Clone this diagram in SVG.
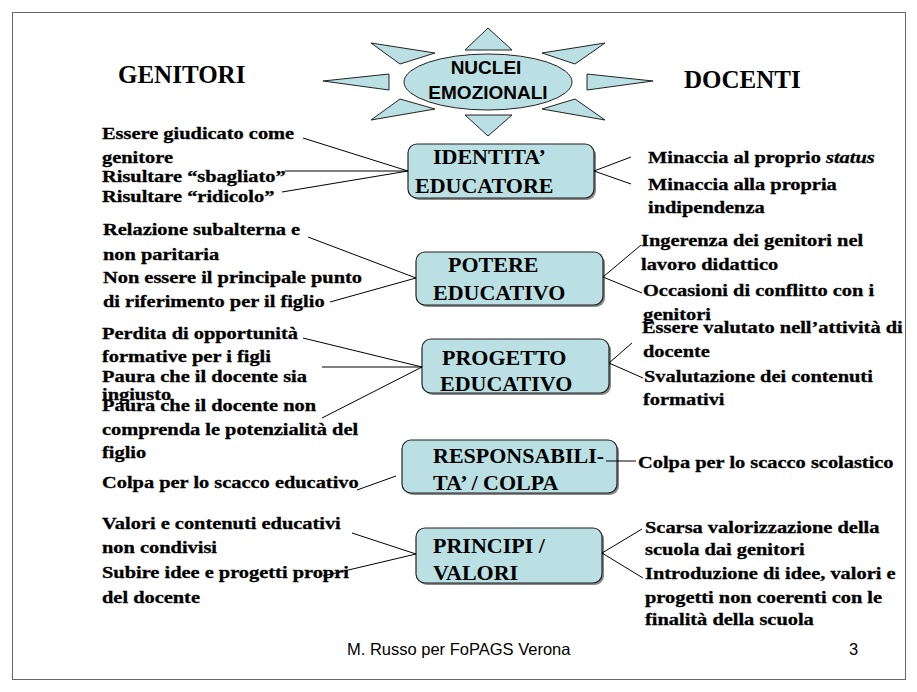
<svg xmlns="http://www.w3.org/2000/svg" width="917" height="692" viewBox="0 0 917 692">
<style>
.bg{fill:#ffffff}
.frame{fill:none;stroke:#666;stroke-width:1}
.ray,.core{fill:#bbe0e3;stroke:#222;stroke-width:1}
.box{fill:#bbe0e3;stroke:#222;stroke-width:1.2}
.shadow{fill:#8a8a8a}
.core-t{font-family:"Liberation Sans",Arial,sans-serif;font-weight:bold;font-size:19px;fill:#000;text-anchor:middle}
.head{font-family:"Liberation Serif","Times New Roman",serif;font-weight:bold;font-size:25px;fill:#000}
.bt{font-family:"Liberation Serif","Times New Roman",serif;font-weight:bold;font-size:22px;fill:#000}
.it{font-family:"Liberation Serif","Times New Roman",serif;font-weight:bold;font-size:17px;fill:#000;stroke:#000;stroke-width:0.3}
.foot{font-family:"Liberation Sans",Arial,sans-serif;font-size:16.5px;fill:#000}
.conn line{stroke:#000;stroke-width:1}
</style>
<rect class="bg" x="0" y="0" width="917" height="692"/>
<rect class="frame" x="12.5" y="12.5" width="893" height="667"/>

<g id="nuclei">
  <polygon class="ray" points="465,50 488,28 512,50"/>
  <polygon class="ray" points="465,115 512,115 488,136"/>
  <polygon class="ray" points="371,43 435,53 400,64"/>
  <polygon class="ray" points="323,81 389,74 389,90"/>
  <polygon class="ray" points="371,120 400,99 435,109"/>
  <polygon class="ray" points="605,43 542,53 575,64"/>
  <polygon class="ray" points="653,81 587,74 587,90"/>
  <polygon class="ray" points="605,120 575,99 542,109"/>
  <ellipse class="core" cx="488" cy="82" rx="84" ry="28"/>
  <text class="core-t" x="486" y="74">NUCLEI</text>
  <text class="core-t" x="488" y="99" font-size="19.5">EMOZIONALI</text>
</g>

<g id="genitori"><text class="head" x="118" y="83">GENITORI</text></g>
<g id="docenti"><text class="head" x="684" y="88">DOCENTI</text></g>

<g id="identita">
  <rect class="shadow" x="410" y="146" width="186" height="54" rx="9"/>
  <rect class="box" x="408" y="144" width="186" height="54" rx="9"/>
  <text class="bt" x="433" y="164">IDENTITA’</text>
  <text class="bt" x="415" y="193">EDUCATORE</text>
</g>
<g id="potere">
  <rect class="shadow" x="418" y="254" width="187" height="53" rx="9"/>
  <rect class="box" x="416" y="252" width="187" height="53" rx="9"/>
  <text class="bt" x="448" y="272">POTERE</text>
  <text class="bt" x="433" y="300">EDUCATIVO</text>
</g>
<g id="progetto">
  <rect class="shadow" x="424" y="341" width="187" height="54" rx="9"/>
  <rect class="box" x="422" y="339" width="187" height="54" rx="9"/>
  <text class="bt" x="442" y="365">PROGETTO</text>
  <text class="bt" x="440" y="391">EDUCATIVO</text>
</g>
<g id="responsabilita">
  <rect class="shadow" x="404" y="442" width="215" height="53" rx="9"/>
  <rect class="box" x="402" y="440" width="215" height="53" rx="9"/>
  <text class="bt" x="433" y="463">RESPONSABILI-</text>
  <text class="bt" x="433" y="490">TA’ / COLPA</text>
</g>
<g id="principi">
  <rect class="shadow" x="418" y="530" width="186" height="55" rx="9"/>
  <rect class="box" x="416" y="528" width="186" height="55" rx="9"/>
  <text class="bt" x="433" y="553">PRINCIPI /</text>
  <text class="bt" x="433" y="580">VALORI</text>
</g>

<g id="connectors" class="conn">
  <line x1="303" y1="138" x2="408" y2="171"/>
  <line x1="285" y1="171" x2="408" y2="171"/>
  <line x1="282" y1="192" x2="408" y2="171"/>
  <line x1="308" y1="237" x2="416" y2="278"/>
  <line x1="330" y1="302" x2="416" y2="278"/>
  <line x1="303" y1="338" x2="422" y2="367"/>
  <line x1="322" y1="367" x2="422" y2="367"/>
  <line x1="322" y1="418" x2="422" y2="367"/>
  <line x1="357" y1="490" x2="396" y2="476"/>
  <line x1="352" y1="533" x2="416" y2="554"/>
  <line x1="323" y1="576" x2="416" y2="554"/>
  <line x1="594" y1="171" x2="631" y2="157"/>
  <line x1="594" y1="171" x2="631" y2="184"/>
  <line x1="603" y1="277" x2="641" y2="245"/>
  <line x1="603" y1="277" x2="642" y2="293"/>
  <line x1="609" y1="363" x2="632" y2="343"/>
  <line x1="609" y1="363" x2="643" y2="378"/>
  <line x1="606" y1="461" x2="636" y2="461"/>
  <line x1="602" y1="553" x2="642" y2="529"/>
  <line x1="602" y1="553" x2="643" y2="578"/>
</g>

<g id="genitori-items">
  <text class="it" transform="matrix(1.2 0 0 1 102 0)" y="139">Essere giudicato come</text>
  <text class="it" transform="matrix(1.2 0 0 1 102 0)" y="163">genitore</text>
  <text class="it" transform="matrix(1.2 0 0 1 102 0)" y="182">Risultare “sbagliato”</text>
  <text class="it" transform="matrix(1.2 0 0 1 102 0)" y="202">Risultare “ridicolo”</text>
  <text class="it" transform="matrix(1.2 0 0 1 103 0)" y="235">Relazione subalterna e</text>
  <text class="it" transform="matrix(1.2 0 0 1 103 0)" y="260">non paritaria</text>
  <text class="it" transform="matrix(1.2 0 0 1 103 0)" y="283">Non essere il principale punto</text>
  <text class="it" transform="matrix(1.2 0 0 1 103 0)" y="307">di riferimento per il figlio</text>
  <text class="it" transform="matrix(1.2 0 0 1 102 0)" y="339">Perdita di opportunità</text>
  <text class="it" transform="matrix(1.2 0 0 1 102 0)" y="362">formative per i figli</text>
  <text class="it" transform="matrix(1.2 0 0 1 102 0)" y="382">Paura che il docente sia</text>
  <text class="it" transform="matrix(1.2 0 0 1 102 0)" y="400">ingiusto</text>
  <text class="it" transform="matrix(1.2 0 0 1 102 0)" y="411">Paura che il docente non</text>
  <text class="it" transform="matrix(1.2 0 0 1 102 0)" y="435">comprenda le potenzialità del</text>
  <text class="it" transform="matrix(1.2 0 0 1 102 0)" y="458">figlio</text>
  <text class="it" transform="matrix(1.2 0 0 1 102 0)" y="488">Colpa per lo scacco educativo</text>
  <text class="it" transform="matrix(1.2 0 0 1 102 0)" y="529">Valori e contenuti educativi</text>
  <text class="it" transform="matrix(1.2 0 0 1 102 0)" y="553">non condivisi</text>
  <text class="it" transform="matrix(1.2 0 0 1 102 0)" y="578">Subire idee e progetti propri</text>
  <text class="it" transform="matrix(1.2 0 0 1 102 0)" y="603">del docente</text>
</g>

<g id="docenti-items">
  <text class="it" transform="matrix(1.2 0 0 1 648 0)" y="163">Minaccia al proprio <tspan font-style="italic">status</tspan></text>
  <text class="it" transform="matrix(1.2 0 0 1 648 0)" y="190">Minaccia alla propria</text>
  <text class="it" transform="matrix(1.2 0 0 1 648 0)" y="213">indipendenza</text>
  <text class="it" transform="matrix(1.2 0 0 1 641 0)" y="246">Ingerenza dei genitori nel</text>
  <text class="it" transform="matrix(1.2 0 0 1 641 0)" y="270">lavoro didattico</text>
  <text class="it" transform="matrix(1.2 0 0 1 643 0)" y="296">Occasioni di conflitto con i</text>
  <text class="it" transform="matrix(1.2 0 0 1 643 0)" y="320">genitori</text>
  <text class="it" transform="matrix(1.2 0 0 1 642 0)" y="333">Essere valutato nell’attività di</text>
  <text class="it" transform="matrix(1.2 0 0 1 643 0)" y="357">docente</text>
  <text class="it" transform="matrix(1.2 0 0 1 644 0)" y="382">Svalutazione dei contenuti</text>
  <text class="it" transform="matrix(1.2 0 0 1 643 0)" y="405">formativi</text>
  <text class="it" transform="matrix(1.2 0 0 1 638 0)" y="468">Colpa per lo scacco scolastico</text>
  <text class="it" transform="matrix(1.2 0 0 1 645 0)" y="533">Scarsa valorizzazione della</text>
  <text class="it" transform="matrix(1.2 0 0 1 645 0)" y="555">scuola dai genitori</text>
  <text class="it" transform="matrix(1.2 0 0 1 645 0)" y="579">Introduzione di idee, valori e</text>
  <text class="it" transform="matrix(1.2 0 0 1 645 0)" y="603">progetti non coerenti con le</text>
  <text class="it" transform="matrix(1.2 0 0 1 645 0)" y="625">finalità della scuola</text>
</g>

<g id="footer">
  <text class="foot" x="347" y="655">M. Russo per FoPAGS Verona</text>
  <text class="foot" x="849" y="655">3</text>
</g>
</svg>
